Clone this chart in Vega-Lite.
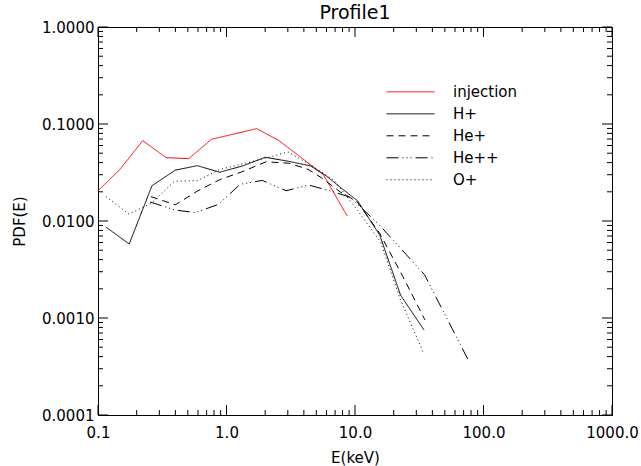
{
  "$schema": "https://vega.github.io/schema/vega-lite/v6.json",
  "width": 514,
  "height": 388,
  "autosize": "none",
  "padding": {"left": 98, "top": 27, "right": 29, "bottom": 51},
  "background": "white",
  "title": {"text": "Profile1", "fontSize": 19, "fontWeight": "normal", "font": "DejaVu Sans", "color": "black", "offset": -3},
  "config": {
    "view": {"stroke": "black", "strokeWidth": 1},
    "axis": {
      "labelFont": "DejaVu Sans", "labelFontSize": 15, "labelColor": "black",
      "titleFont": "DejaVu Sans", "titleFontSize": 15, "titleFontWeight": "normal", "titleColor": "black",
      "domainColor": "black", "grid": false, "labelOverlap": false, "labelFlush": false, "ticks": false
    }
  },
  "resolve": {"axis": {"x": "independent", "y": "independent"}},
  "datasets": {
    "xmajor": [{"v": 0.1}, {"v": 1}, {"v": 10}, {"v": 100}, {"v": 1000}],
    "xminor": [{"v": 0.2}, {"v": 0.3}, {"v": 0.4}, {"v": 0.5}, {"v": 0.6}, {"v": 0.7}, {"v": 0.8}, {"v": 0.9},
               {"v": 2}, {"v": 3}, {"v": 4}, {"v": 5}, {"v": 6}, {"v": 7}, {"v": 8}, {"v": 9},
               {"v": 20}, {"v": 30}, {"v": 40}, {"v": 50}, {"v": 60}, {"v": 70}, {"v": 80}, {"v": 90},
               {"v": 200}, {"v": 300}, {"v": 400}, {"v": 500}, {"v": 600}, {"v": 700}, {"v": 800}, {"v": 900}],
    "ymajor": [{"v": 0.0001}, {"v": 0.001}, {"v": 0.01}, {"v": 0.1}, {"v": 1}],
    "yminor": [{"v": 0.0002}, {"v": 0.0003}, {"v": 0.0004}, {"v": 0.0005}, {"v": 0.0006}, {"v": 0.0007}, {"v": 0.0008}, {"v": 0.0009},
               {"v": 0.002}, {"v": 0.003}, {"v": 0.004}, {"v": 0.005}, {"v": 0.006}, {"v": 0.007}, {"v": 0.008}, {"v": 0.009},
               {"v": 0.02}, {"v": 0.03}, {"v": 0.04}, {"v": 0.05}, {"v": 0.06}, {"v": 0.07}, {"v": 0.08}, {"v": 0.09},
               {"v": 0.2}, {"v": 0.3}, {"v": 0.4}, {"v": 0.5}, {"v": 0.6}, {"v": 0.7}, {"v": 0.8}, {"v": 0.9}],
    "pdf": [
    {"series": "injection", "E": 0.1, "pdf": 0.0205},
    {"series": "injection", "E": 0.148, "pdf": 0.034},
    {"series": "injection", "E": 0.223, "pdf": 0.0673},
    {"series": "injection", "E": 0.339, "pdf": 0.045},
    {"series": "injection", "E": 0.508, "pdf": 0.0439},
    {"series": "injection", "E": 0.764, "pdf": 0.0696},
    {"series": "injection", "E": 1.716, "pdf": 0.0895},
    {"series": "injection", "E": 2.55, "pdf": 0.0677},
    {"series": "injection", "E": 3.69, "pdf": 0.0466},
    {"series": "injection", "E": 5.66, "pdf": 0.0301},
    {"series": "injection", "E": 8.69, "pdf": 0.0113},
    {"series": "H+", "E": 0.1153, "pdf": 0.00865},
    {"series": "H+", "E": 0.175, "pdf": 0.0058},
    {"series": "H+", "E": 0.263, "pdf": 0.0231},
    {"series": "H+", "E": 0.399, "pdf": 0.0334},
    {"series": "H+", "E": 0.592, "pdf": 0.0372},
    {"series": "H+", "E": 0.887, "pdf": 0.0318},
    {"series": "H+", "E": 1.336, "pdf": 0.037},
    {"series": "H+", "E": 2.003, "pdf": 0.0454},
    {"series": "H+", "E": 3.025, "pdf": 0.0413},
    {"series": "H+", "E": 4.51, "pdf": 0.037},
    {"series": "H+", "E": 5.97, "pdf": 0.0292},
    {"series": "H+", "E": 8.16, "pdf": 0.0209},
    {"series": "H+", "E": 10.46, "pdf": 0.01616},
    {"series": "H+", "E": 15.6, "pdf": 0.00713},
    {"series": "H+", "E": 22.6, "pdf": 0.001725},
    {"series": "H+", "E": 34.5, "pdf": 0.00075},
    {"series": "He+", "E": 0.258, "pdf": 0.01785},
    {"series": "He+", "E": 0.399, "pdf": 0.01467},
    {"series": "He+", "E": 0.592, "pdf": 0.0203},
    {"series": "He+", "E": 0.887, "pdf": 0.0267},
    {"series": "He+", "E": 1.316, "pdf": 0.0321},
    {"series": "He+", "E": 2.034, "pdf": 0.0408},
    {"series": "He+", "E": 3.066, "pdf": 0.0394},
    {"series": "He+", "E": 4.31, "pdf": 0.0341},
    {"series": "He+", "E": 5.56, "pdf": 0.0276},
    {"series": "He+", "E": 7.64, "pdf": 0.02},
    {"series": "He+", "E": 10.36, "pdf": 0.01587},
    {"series": "He+", "E": 15.6, "pdf": 0.00743},
    {"series": "He+", "E": 23.5, "pdf": 0.0027},
    {"series": "He+", "E": 35.0, "pdf": 0.000956},
    {"series": "He++", "E": 0.254, "pdf": 0.0157},
    {"series": "He++", "E": 0.399, "pdf": 0.01298},
    {"series": "He++", "E": 0.572, "pdf": 0.01218},
    {"series": "He++", "E": 0.867, "pdf": 0.01486},
    {"series": "He++", "E": 1.275, "pdf": 0.02386},
    {"series": "He++", "E": 1.9, "pdf": 0.02623},
    {"series": "He++", "E": 2.91, "pdf": 0.0205},
    {"series": "He++", "E": 4.36, "pdf": 0.02348},
    {"series": "He++", "E": 6.5, "pdf": 0.02034},
    {"series": "He++", "E": 9.2, "pdf": 0.01756},
    {"series": "He++", "E": 15.4, "pdf": 0.00916},
    {"series": "He++", "E": 34.7, "pdf": 0.0028},
    {"series": "He++", "E": 76.3, "pdf": 0.000366},
    {"series": "O+", "E": 0.1153, "pdf": 0.01786},
    {"series": "O+", "E": 0.174, "pdf": 0.01178},
    {"series": "O+", "E": 0.261, "pdf": 0.01526},
    {"series": "O+", "E": 0.394, "pdf": 0.02573},
    {"series": "O+", "E": 0.592, "pdf": 0.026},
    {"series": "O+", "E": 0.887, "pdf": 0.034},
    {"series": "O+", "E": 1.346, "pdf": 0.0389},
    {"series": "O+", "E": 1.983, "pdf": 0.0442},
    {"series": "O+", "E": 3.015, "pdf": 0.0515},
    {"series": "O+", "E": 4.51, "pdf": 0.0379},
    {"series": "O+", "E": 6.9, "pdf": 0.0262},
    {"series": "O+", "E": 10.46, "pdf": 0.01288},
    {"series": "O+", "E": 15.8, "pdf": 0.0061},
    {"series": "O+", "E": 22.6, "pdf": 0.001536},
    {"series": "O+", "E": 34.2, "pdf": 0.000433}
    ]
  },
  "layer": [
    {
      "data": {"name": "pdf"},
      "mark": {"type": "line", "strokeWidth": 1, "clip": true},
      "encoding": {
        "x": {"field": "E", "type": "quantitative",
          "scale": {"type": "log", "domain": [0.1, 1000], "nice": false},
          "axis": {"orient": "bottom", "title": "E(keV)", "labelPadding": 10, "titlePadding": 10,
            "values": [0.1, 1, 10, 100, 1000], "format": ".1f"}},
        "y": {"field": "pdf", "type": "quantitative",
          "scale": {"type": "log", "domain": [0.0001, 1], "nice": false},
          "axis": {"orient": "left", "title": "PDF(E)", "labelPadding": 4, "titlePadding": 14,
            "values": [0.0001, 0.001, 0.01, 0.1, 1], "format": ".4f"}},
        "color": {"field": "series", "type": "nominal",
          "scale": {"domain": ["injection", "H+", "He+", "He++", "O+"], "range": ["#ff0000", "#000000", "#000000", "#000000", "#000000"]},
          "legend": {"title": null, "orient": "none", "legendX": 288, "legendY": 54, "symbolType": "stroke", "symbolSize": 2304, "symbolStrokeWidth": 1, "labelFont": "DejaVu Sans", "labelFontSize": 15, "labelColor": "black", "clipHeight": 21.6, "rowPadding": 0, "labelOffset": 18, "padding": 0}},
        "strokeDash": {"field": "series", "type": "nominal",
          "scale": {"domain": ["injection", "H+", "He+", "He++", "O+"], "range": [[1, 0], [1, 0], [7, 5], [12, 4, 1, 3, 1, 3, 1, 4], [1, 3]]},
          "legend": {"title": null, "orient": "none", "legendX": 288, "legendY": 54, "symbolType": "stroke", "symbolSize": 2304, "symbolStrokeWidth": 1, "labelFont": "DejaVu Sans", "labelFontSize": 15, "labelColor": "black", "clipHeight": 21.6, "rowPadding": 0, "labelOffset": 18, "padding": 0}}
      }
    },
    {
      "data": {"name": "xmajor"},
      "mark": {"type": "tick", "orient": "vertical", "size": 10, "thickness": 1, "color": "black", "opacity": 1, "yOffset": -5},
      "encoding": {
        "x": {"field": "v", "type": "quantitative", "axis": null},
        "y": {"datum": 0.0001, "type": "quantitative", "axis": null}
      }
    },
    {
      "data": {"name": "xminor"},
      "mark": {"type": "tick", "orient": "vertical", "size": 5, "thickness": 1, "color": "black", "opacity": 1, "yOffset": -2.5},
      "encoding": {
        "x": {"field": "v", "type": "quantitative", "axis": null},
        "y": {"datum": 0.0001, "type": "quantitative", "axis": null}
      }
    },
    {
      "data": {"name": "xmajor"},
      "mark": {"type": "tick", "orient": "vertical", "size": 10, "thickness": 1, "color": "black", "opacity": 1, "yOffset": 5},
      "encoding": {
        "x": {"field": "v", "type": "quantitative", "axis": null},
        "y": {"datum": 1, "type": "quantitative", "axis": null}
      }
    },
    {
      "data": {"name": "xminor"},
      "mark": {"type": "tick", "orient": "vertical", "size": 5, "thickness": 1, "color": "black", "opacity": 1, "yOffset": 2.5},
      "encoding": {
        "x": {"field": "v", "type": "quantitative", "axis": null},
        "y": {"datum": 1, "type": "quantitative", "axis": null}
      }
    },
    {
      "data": {"name": "ymajor"},
      "mark": {"type": "tick", "orient": "horizontal", "size": 10, "thickness": 1, "color": "black", "opacity": 1, "xOffset": 5},
      "encoding": {
        "y": {"field": "v", "type": "quantitative", "axis": null},
        "x": {"datum": 0.1, "type": "quantitative", "axis": null}
      }
    },
    {
      "data": {"name": "yminor"},
      "mark": {"type": "tick", "orient": "horizontal", "size": 5, "thickness": 1, "color": "black", "opacity": 1, "xOffset": 2.5},
      "encoding": {
        "y": {"field": "v", "type": "quantitative", "axis": null},
        "x": {"datum": 0.1, "type": "quantitative", "axis": null}
      }
    },
    {
      "data": {"name": "ymajor"},
      "mark": {"type": "tick", "orient": "horizontal", "size": 10, "thickness": 1, "color": "black", "opacity": 1, "xOffset": -5},
      "encoding": {
        "y": {"field": "v", "type": "quantitative", "axis": null},
        "x": {"datum": 1000, "type": "quantitative", "axis": null}
      }
    },
    {
      "data": {"name": "yminor"},
      "mark": {"type": "tick", "orient": "horizontal", "size": 5, "thickness": 1, "color": "black", "opacity": 1, "xOffset": -2.5},
      "encoding": {
        "y": {"field": "v", "type": "quantitative", "axis": null},
        "x": {"datum": 1000, "type": "quantitative", "axis": null}
      }
    }
  ]
}
